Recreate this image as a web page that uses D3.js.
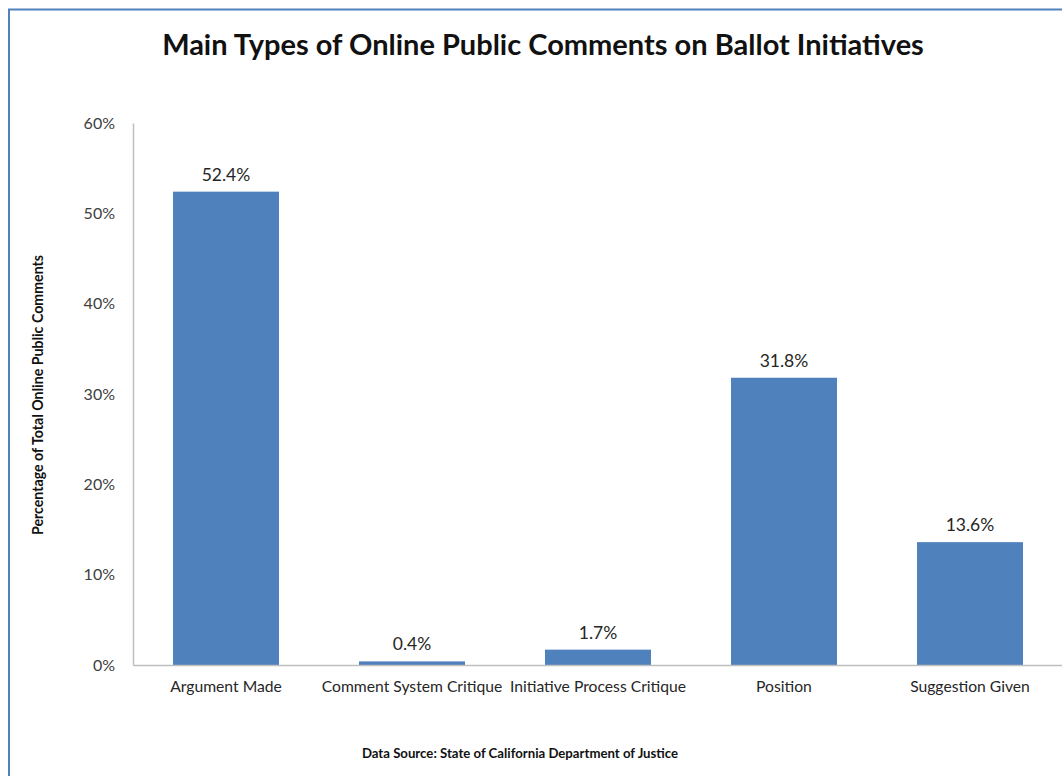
<!DOCTYPE html>
<html>
<head>
<meta charset="utf-8">
<script src="https://cdn.jsdelivr.net/npm/d3@7"></script>
<style>
  html, body { margin: 0; padding: 0; background: #fff; }
  svg text { font-family: Lato, "Open Sans", sans-serif; }
</style>
</head>
<body>
<div id="chart"></div>
<script>
// ── Data ────────────────────────────────────────────────────────────
const categories = ['Argument Made', 'Comment System Critique', 'Initiative Process Critique', 'Position', 'Suggestion Given'];
const values     = [52.4, 0.4, 1.7, 31.8, 13.6];
const yTicks     = [0, 10, 20, 30, 40, 50, 60];

const W = 1062, H = 776;
const m = { left: 133, right: -1, top: 123, bottom: H - 665 };

const svg = d3.select('#chart').append('svg')
  .attr('width', W).attr('height', H);

// outer frame (only top/left visible in the crop)
svg.append('path')
  .attr('d', `M9,${H + 2} V9.5 H${W + 2}`)
  .attr('fill', 'none').attr('stroke', '#4f81bd').attr('stroke-width', 2);

const x = d3.scaleBand()
  .domain(categories)
  .range([m.left, W - m.right])
  .paddingInner(0.43).paddingOuter(0.215);

const y = d3.scaleLinear().domain([0, 60]).range([H - m.bottom, m.top]);

// ── Axes ────────────────────────────────────────────────────────────
const yAxis = svg.append('g')
  .attr('transform', `translate(${m.left},0)`)
  .call(d3.axisLeft(y).tickValues(yTicks).tickSize(0).tickPadding(18).tickFormat(d => d + '%'));
yAxis.select('.domain').attr('stroke', '#bfbfbf').attr('stroke-width', 1.5);
yAxis.selectAll('text').attr('font-size', 16).attr('fill', '#404040').attr('font-family', 'Lato');

// ── Bars ────────────────────────────────────────────────────────────
svg.append('g').selectAll('rect')
  .data(values)
  .join('rect')
    .attr('x', (d, i) => x(categories[i]))
    .attr('width', x.bandwidth())
    .attr('y', d => y(d))
    .attr('height', d => y(0) - y(d))
    .attr('fill', '#4f81bd');

const xAxis = svg.append('g')
  .attr('transform', `translate(0,${y(0)})`)
  .call(d3.axisBottom(x).tickSize(0).tickPadding(16));
xAxis.select('.domain').attr('stroke', '#bfbfbf').attr('stroke-width', 1.5);
xAxis.selectAll('text').attr('font-size', 15.7).attr('fill', '#262626').attr('font-family', 'Lato');

// value labels
svg.append('g').selectAll('text')
  .data(values)
  .join('text')
    .attr('x', (d, i) => x(categories[i]) + x.bandwidth() / 2)
    .attr('y', d => y(d) - 11)
    .attr('text-anchor', 'middle')
    .attr('font-size', 17.5)
    .attr('fill', '#262626')
    .text(d => d.toFixed(1) + '%');

// ── Titles ──────────────────────────────────────────────────────────
svg.append('text')
  .attr('x', 543).attr('y', 55)
  .attr('text-anchor', 'middle')
  .attr('font-size', 29).attr('font-weight', 'bold').attr('fill', '#111')
  .text('Main Types of Online Public Comments on Ballot Initiatives');

svg.append('text')
  .attr('transform', 'translate(43,395) rotate(-90)')
  .attr('text-anchor', 'middle')
  .attr('font-size', 14.2).attr('font-weight', 'bold').attr('fill', '#111')
  .text('Percentage of Total Online Public Comments');

svg.append('text')
  .attr('x', 520).attr('y', 758)
  .attr('text-anchor', 'middle')
  .attr('font-size', 13.2).attr('font-weight', 'bold').attr('fill', '#111')
  .text('Data Source: State of California Department of Justice');
</script>
</body>
</html>
